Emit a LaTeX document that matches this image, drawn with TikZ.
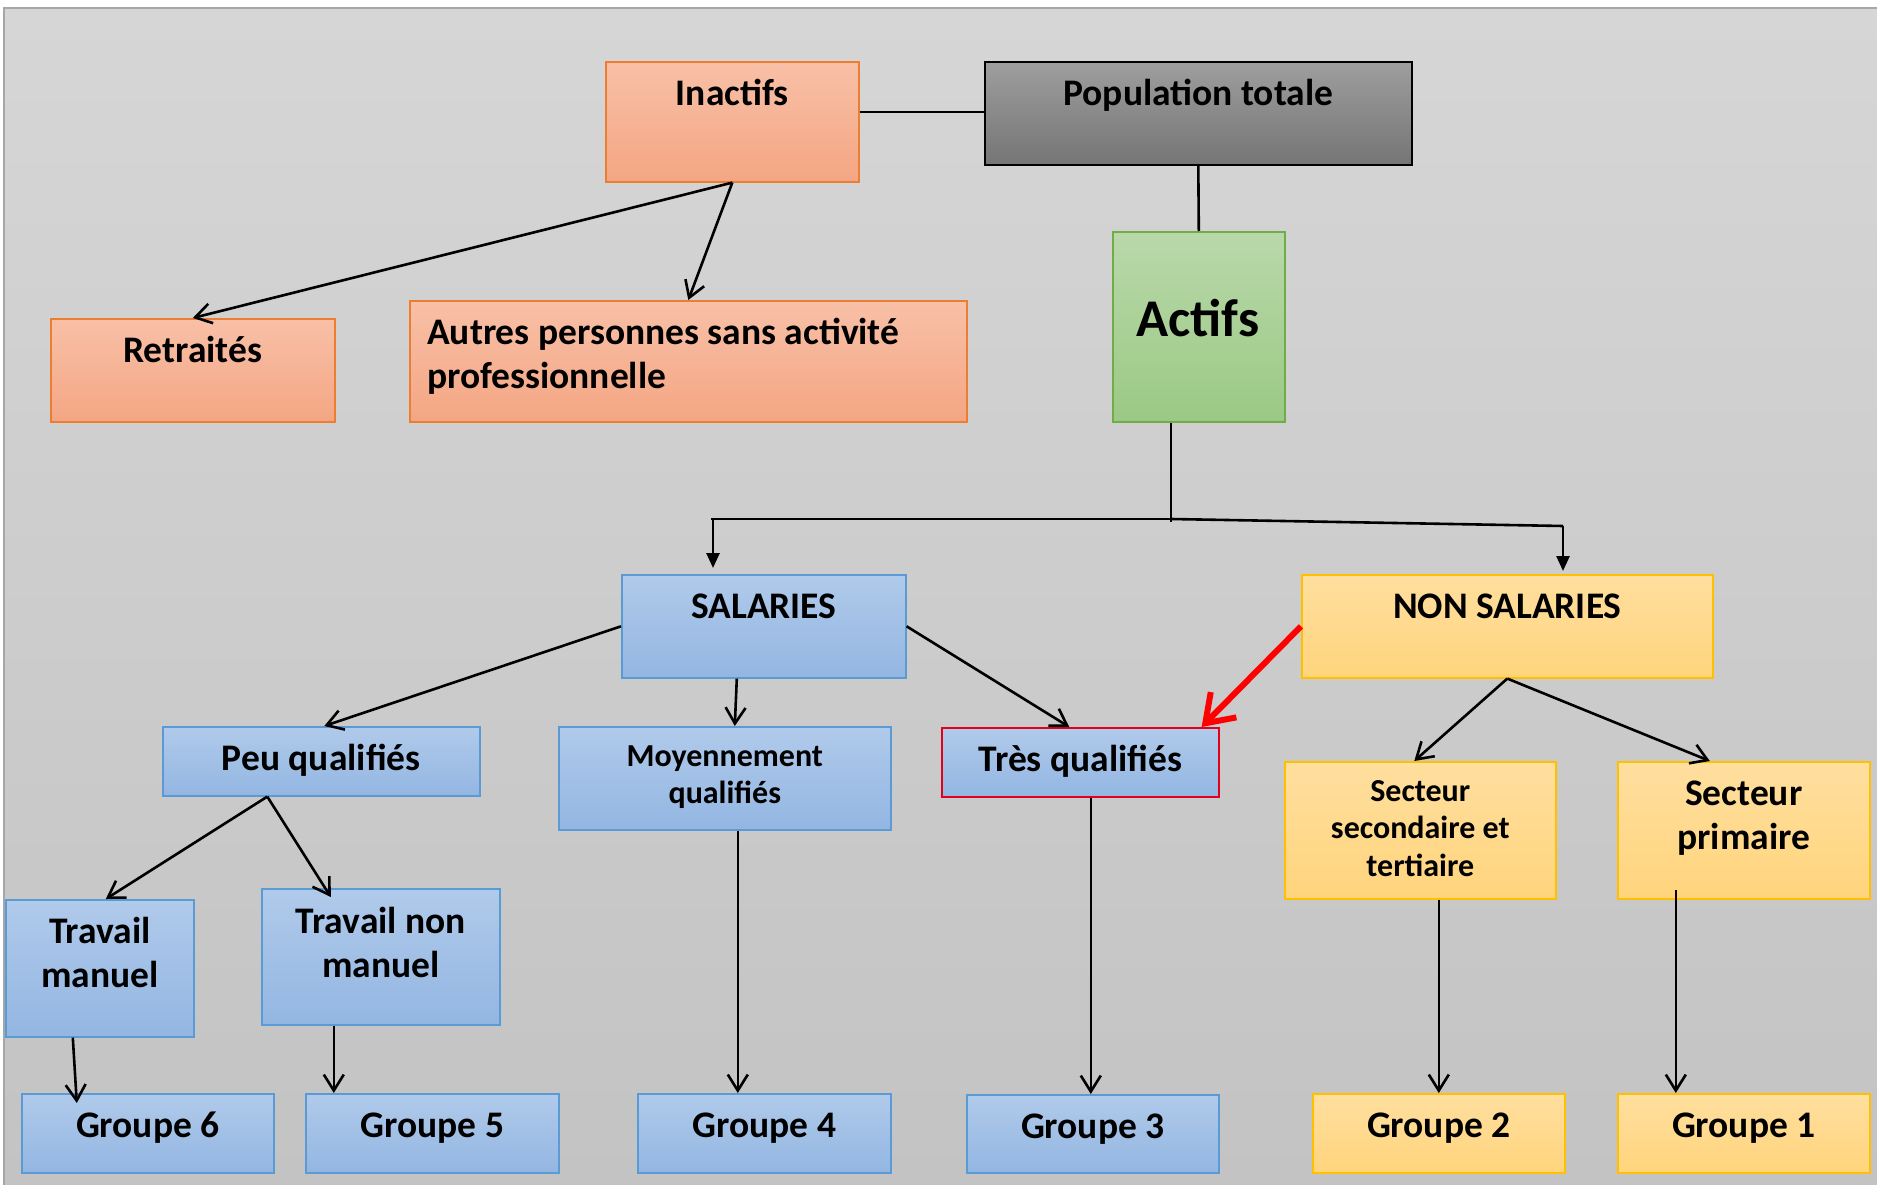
\documentclass[tikz,border=0pt]{standalone}
\usepackage{fontspec}
\setmainfont{Carlito}
\usetikzlibrary{arrows.meta}
\definecolor{bgtop}{HTML}{D6D6D6}
\definecolor{bgbot}{HTML}{C3C3C3}
\definecolor{otop}{HTML}{F8C0A7}
\definecolor{obot}{HTML}{F4A683}
\definecolor{oline}{HTML}{ED7D31}
\definecolor{gtop}{HTML}{9E9E9E}
\definecolor{gbot}{HTML}{757575}
\definecolor{grtop}{HTML}{B9D8AA}
\definecolor{grbot}{HTML}{9BC984}
\definecolor{grline}{HTML}{70AD47}
\definecolor{btop}{HTML}{B0CAEA}
\definecolor{bbot}{HTML}{93B6E2}
\definecolor{bline}{HTML}{5B9BD5}
\definecolor{ytop}{HTML}{FFDF9F}
\definecolor{ybot}{HTML}{FFD47C}
\definecolor{yline}{HTML}{FFC000}
\definecolor{redline}{HTML}{E3001B}
\definecolor{arrred}{HTML}{FF0000}
\tikzset{
  basebox/.style={rectangle, inner sep=0pt, anchor=north west, line width=1.6pt},
  obox/.style={basebox, draw=oline, top color=otop, bottom color=obot},
  gbox/.style={basebox, draw=black, top color=gtop, bottom color=gbot},
  grbox/.style={basebox, draw=grline, top color=grtop, bottom color=grbot},
  bbox/.style={basebox, draw=bline, top color=btop, bottom color=bbot},
  ybox/.style={basebox, draw=yline, top color=ytop, bottom color=ybot},
  tbig/.style={anchor=north, inner sep=0pt, align=center, font=\bfseries\fontsize{37.5}{44.5}\selectfont},
  tsmall/.style={anchor=north, inner sep=0pt, align=center, font=\bfseries\fontsize{32}{37.5}\selectfont},
  conn/.style={line width=2.6pt, draw=black},
  arr/.style={conn, -{Straight Barb[length=16pt,width=20pt]}},
  farr/.style={conn, -{Triangle[length=15pt,width=13pt]}},
  redarr/.style={line width=6pt, draw=arrred, -{Straight Barb[length=26pt,width=36pt]}},
}
\begin{document}
\begin{tikzpicture}[x=1pt,y=-1pt]
\useasboundingbox (0,0) rectangle (1877,1185);
\fill[white] (0,0) rectangle (1877,1185);
\fill[top color=bgtop, bottom color=bgbot] (4,8) rectangle (1877,1185);
\draw[line width=1.5pt, draw=black!35] (4,1185) -- (4,8) -- (1877,8);

% boxes
\node[obox, minimum width=253pt, minimum height=120pt] (inactifs) at (605,61) {};
\node[gbox, minimum width=427pt, minimum height=103pt] (pop) at (984,61) {};
\node[grbox, minimum width=172pt, minimum height=190pt] (actifs) at (1112,231) {};
\node[obox, minimum width=284pt, minimum height=103pt] (retraites) at (50,318) {};
\node[obox, minimum width=557pt, minimum height=121pt] (autres) at (409,300) {};
\node[bbox, minimum width=284pt, minimum height=103pt] (salaries) at (621,574) {};
\node[ybox, minimum width=411pt, minimum height=103pt] (nonsal) at (1301,574) {};
\node[bbox, minimum width=317pt, minimum height=69pt] (peu) at (162,726) {};
\node[bbox, minimum width=332pt, minimum height=103pt] (moy) at (558,726) {};
\node[bbox, draw=redline, minimum width=277pt, minimum height=69pt] (tres) at (941,727) {};
\node[ybox, minimum width=271pt, minimum height=137pt] (secsec) at (1284,761) {};
\node[ybox, minimum width=252pt, minimum height=137pt] (prim) at (1617,761) {};
\node[bbox, minimum width=188pt, minimum height=137pt] (tm) at (5,899) {};
\node[bbox, minimum width=238pt, minimum height=136pt] (tnm) at (261,888) {};
\node[bbox, minimum width=252pt, minimum height=79pt] (g6) at (21,1093) {};
\node[bbox, minimum width=253pt, minimum height=79pt] (g5) at (305,1093) {};
\node[bbox, minimum width=253pt, minimum height=79pt] (g4) at (637,1093) {};
\node[bbox, minimum width=252pt, minimum height=78pt] (g3) at (966,1094) {};
\node[ybox, minimum width=252pt, minimum height=79pt] (g2) at (1312,1093) {};
\node[ybox, minimum width=252pt, minimum height=79pt] (g1) at (1617,1093) {};

% texts
\node[tbig] (inactifs-t) at ([yshift=-13pt]inactifs.north) {\strut Inactifs};
\node[tbig] (pop-t) at ([yshift=-13pt]pop.north) {\strut Population totale};
\node[anchor=base, inner sep=0pt, font=\bfseries\fontsize{53}{60}\selectfont] (actifs-t) at (1198,336) {Actifs};
\node[tbig] (retraites-t) at ([yshift=-13pt]retraites.north) {\strut Retraités};
\node[tbig, anchor=north west, align=left] (autres-t) at ([xshift=18pt,yshift=-13pt]autres.north west) {\strut Autres personnes sans activité\\professionnelle};
\node[tbig] (salaries-t) at ([yshift=-13pt]salaries.north) {\strut SALARIES};
\node[tbig] (nonsal-t) at ([yshift=-13pt]nonsal.north) {\strut NON SALARIES};
\node[tbig] (peu-t) at ([yshift=-13pt]peu.north) {\strut Peu qualifiés};
\node[tsmall] (moy-t) at ([yshift=-14pt]moy.north) {\strut Moyennement\\qualifiés};
\node[tbig] (tres-t) at ([yshift=-13pt]tres.north) {\strut Très qualifiés};
\node[tsmall] (secsec-t) at ([yshift=-14pt]secsec.north) {\strut Secteur\\secondaire et\\tertiaire};
\node[tbig] (prim-t) at ([yshift=-13pt]prim.north) {\strut Secteur\\primaire};
\node[tbig] (tm-t) at ([yshift=-13pt]tm.north) {\strut Travail\\manuel};
\node[tbig] (tnm-t) at ([yshift=-14pt]tnm.north) {\strut Travail non\\manuel};
\node[tbig] (g6-t) at ([yshift=-13pt]g6.north) {\strut Groupe 6};
\node[tbig] (g5-t) at ([yshift=-13pt]g5.north) {\strut Groupe 5};
\node[tbig] (g4-t) at ([yshift=-13pt]g4.north) {\strut Groupe 4};
\node[tbig] (g3-t) at ([yshift=-13pt]g3.north) {\strut Groupe 3};
\node[tbig] (g2-t) at ([yshift=-13pt]g2.north) {\strut Groupe 2};
\node[tbig] (g1-t) at ([yshift=-13pt]g1.north) {\strut Groupe 1};

% connectors top
\draw[conn] (inactifs.east |- 0,112) -- (pop.west |- 0,112);
\draw[conn] (pop.south) -- (actifs.north);
\draw[arr] (inactifs.south) -- (retraites.north);
\draw[arr] (inactifs.south) -- (autres.north);

% split from Actifs
\coordinate (sp) at (1171,519);
\coordinate (spL) at (711,519);
\coordinate (spR) at (1563,526);
\draw[conn] (sp |- actifs.south) -- ([yshift=-3pt]sp);
\draw[conn] (sp) -- (spL);
\draw[conn] (sp) -- (spR);
\draw[farr, shorten >=6pt] ([xshift=2pt]spL) -- ([xshift=2pt]spL |- salaries.north);
\draw[farr, shorten >=3pt] (spR) -- (spR |- nonsal.north);

% salaries / non salaries
\draw[arr] (salaries.west) -- ([xshift=3pt]peu.north);
\draw[arr] ([xshift=-27pt]salaries.south) -- ([xshift=10pt]moy.north);
\draw[arr] (salaries.east) -- ([xshift=-11pt]tres.north);
\draw[redarr] (nonsal.west) -- ([xshift=-18pt]tres.north east);
\draw[arr] (nonsal.south) -- ([xshift=-6pt]secsec.north);
\draw[arr] (nonsal.south) -- ([xshift=-34pt]prim.north);

% peu qualifies
\draw[arr] ([xshift=-54pt]peu.south) -- ([xshift=6pt]tm.north);
\draw[arr] ([xshift=-54pt]peu.south) -- ([xshift=-50pt,yshift=-9pt]tnm.north);

% down to groups
\draw[arr] ([xshift=-27pt]tm.south) -- ([xshift=-71pt,yshift=-10pt]g6.north);
\draw[arr] ([xshift=-47pt]tnm.south) -- ([xshift=-47pt]tnm.south |- g5.north);
\draw[arr] ([xshift=13pt]moy.south) -- ([xshift=13pt]moy.south |- g4.north);
\draw[arr] ([xshift=10.5pt]tres.south) -- ([xshift=10.5pt]tres.south |- g3.north);
\draw[arr] ([xshift=18.5pt]secsec.south) -- ([xshift=18.5pt]secsec.south |- g2.north);
\draw[arr] ([xshift=-68pt,yshift=10pt]prim.south) -- ([xshift=-68pt]prim.south |- g1.north);
\end{tikzpicture}
\end{document}
